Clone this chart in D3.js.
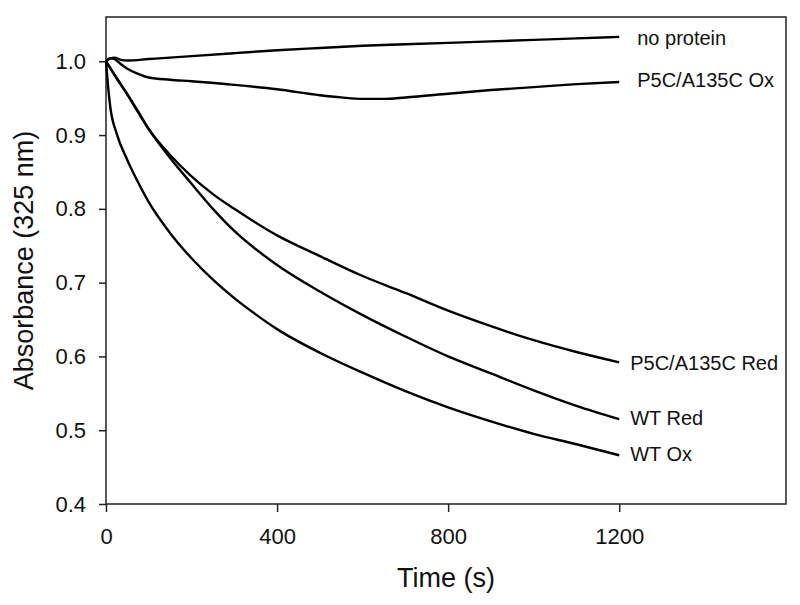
<!DOCTYPE html>
<html>
<head>
<meta charset="utf-8">
<script src="https://cdn.jsdelivr.net/npm/d3@7"></script>
<style>
  html, body { margin: 0; padding: 0; background: #fff; }
  svg { display: block; font-family: Arial, "Liberation Sans", sans-serif; }
</style>
</head>
<body>
<svg id="chart" width="800" height="605"></svg>
<script>
// ---- data ----
const xTicks = [0, 400, 800, 1200];
const yTicks = [0.4, 0.5, 0.6, 0.7, 0.8, 0.9, 1.0];

const noProteinT = [0, 10, 20, 35, 50, 100, 200, 300, 400, 500, 600, 700, 800, 900, 1000, 1100, 1200];
const noProteinA = [1.000, 1.004, 1.005, 1.002, 1.001, 1.003, 1.007, 1.011, 1.015, 1.018, 1.021, 1.023, 1.025, 1.027, 1.029, 1.031, 1.033];

const p5cOxT = [0, 10, 20, 35, 50, 75, 100, 150, 200, 300, 400, 500, 550, 600, 650, 700, 800, 900, 1000, 1100, 1200];
const p5cOxA = [1.000, 1.004, 1.003, 0.996, 0.990, 0.983, 0.978, 0.975, 0.973, 0.968, 0.962, 0.954, 0.951, 0.949, 0.949, 0.951, 0.956, 0.961, 0.965, 0.969, 0.972];

const p5cRedT = [0, 25, 50, 75, 100, 150, 200, 250, 300, 400, 500, 600, 700, 800, 900, 1000, 1100, 1200];
const p5cRedA = [1.000, 0.977, 0.955, 0.931, 0.908, 0.873, 0.844, 0.820, 0.800, 0.764, 0.736, 0.709, 0.686, 0.662, 0.641, 0.622, 0.606, 0.592];

const wtRedT = [0, 25, 50, 75, 100, 150, 200, 250, 300, 400, 500, 600, 700, 800, 900, 1000, 1100, 1200];
const wtRedA = [1.000, 0.977, 0.955, 0.932, 0.908, 0.869, 0.834, 0.800, 0.770, 0.724, 0.688, 0.656, 0.627, 0.600, 0.577, 0.554, 0.533, 0.515];

const wtOxT = [0, 5, 10, 25, 50, 75, 100, 150, 200, 250, 300, 350, 400, 500, 600, 700, 800, 900, 1000, 1100, 1200];
const wtOxA = [1.000, 0.965, 0.938, 0.902, 0.866, 0.836, 0.809, 0.767, 0.733, 0.704, 0.679, 0.657, 0.637, 0.605, 0.578, 0.553, 0.531, 0.512, 0.495, 0.481, 0.466];

const seriesNames = ["no protein", "P5C/A135C Ox", "P5C/A135C Red", "WT Red", "WT Ox"];
const labelOffsets = [[18, 8], [18, 5], [11, 8], [11, 6], [11, 6]];

// ---- layout ----
const svg = d3.select("#chart");
const L = 106, R = 786, T = 17, B = 504;
const x = d3.scaleLinear().domain([0, 1590]).range([L, R]);
const y = d3.scaleLinear().domain([0.4, 1.06]).range([B, T]);

const series = [
  { name: seriesNames[0], t: noProteinT, a: noProteinA },
  { name: seriesNames[1], t: p5cOxT, a: p5cOxA },
  { name: seriesNames[2], t: p5cRedT, a: p5cRedA },
  { name: seriesNames[3], t: wtRedT, a: wtRedA },
  { name: seriesNames[4], t: wtOxT, a: wtOxA }
];

// frame
svg.append("rect")
  .attr("x", L).attr("y", T).attr("width", R - L).attr("height", B - T)
  .attr("fill", "none").attr("stroke", "#222").attr("stroke-width", 1.5);

// axes
const xAxis = d3.axisBottom(x).tickValues(xTicks).tickSize(8).tickPadding(16)
  .tickFormat(d3.format("d"));
const gx = svg.append("g").attr("transform", `translate(0,${B})`).call(xAxis);
gx.select(".domain").remove();
gx.selectAll("line").attr("stroke", "#222").attr("stroke-width", 1.5);
gx.selectAll("text").attr("font-size", 22).attr("fill", "#111")
  .attr("font-family", "Arial, 'Liberation Sans', sans-serif");

const yAxis = d3.axisLeft(y).tickValues(yTicks).tickSize(7).tickPadding(13)
  .tickFormat(d3.format(".1f"));
const gy = svg.append("g").attr("transform", `translate(${L},0)`).call(yAxis);
gy.select(".domain").remove();
gy.selectAll("line").attr("stroke", "#222").attr("stroke-width", 1.5);
gy.selectAll("text").attr("font-size", 22).attr("fill", "#111")
  .attr("font-family", "Arial, 'Liberation Sans', sans-serif");

// axis titles
svg.append("text").attr("x", (L + R) / 2).attr("y", 587)
  .attr("text-anchor", "middle").attr("font-size", 27).attr("fill", "#111")
  .text("Time (s)");
svg.append("text")
  .attr("transform", `translate(33,${(T + B) / 2}) rotate(-90)`)
  .attr("text-anchor", "middle").attr("font-size", 27).attr("fill", "#111")
  .text("Absorbance (325 nm)");

// lines
const line = d3.line()
  .x(d => x(d[0])).y(d => y(d[1]))
  .curve(d3.curveMonotoneX);

series.forEach((s, i) => {
  const pts = s.t.map((t, k) => [t, s.a[k]]);
  svg.append("path").datum(pts)
    .attr("d", line)
    .attr("fill", "none").attr("stroke", "#000").attr("stroke-width", 2.4)
    .attr("stroke-linejoin", "round");
  const last = pts[pts.length - 1];
  svg.append("text")
    .attr("x", x(last[0]) + labelOffsets[i][0])
    .attr("y", y(last[1]) + labelOffsets[i][1])
    .attr("font-size", 20).attr("fill", "#111")
    .text(s.name);
});
</script>
</body>
</html>
